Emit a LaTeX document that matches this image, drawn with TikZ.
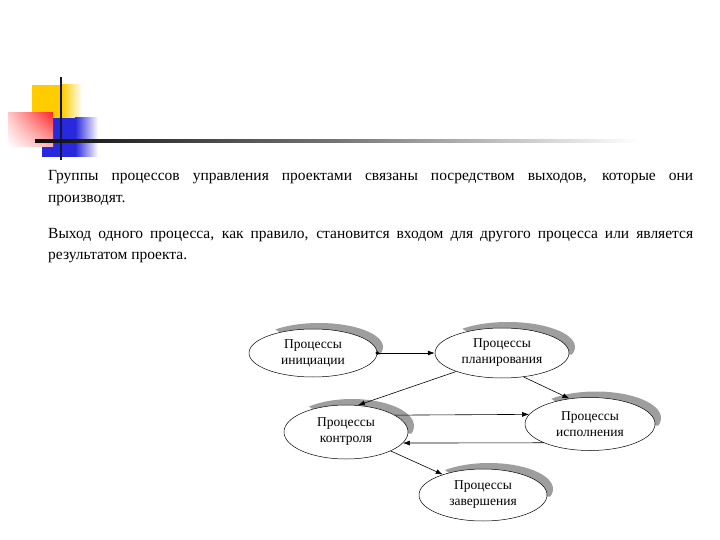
\documentclass[tikz,border=0pt]{standalone}
\usepackage{fontspec}
\setmainfont{Liberation Serif}
\usetikzlibrary{shapes.geometric,arrows.meta,shadings}
\definecolor{decoyel}{RGB}{255,204,0}
\definecolor{decored}{RGB}{255,40,40}
\definecolor{decoblu}{RGB}{40,40,220}
\definecolor{deconavy}{RGB}{20,20,60}
\newcommand\ellshadow[4]{%
  \begin{scope}
    \clip ({#1-1.1*#3},{#2-#4-20}) -- ({#1+#3+20},{#2-#4-20}) -- ({#1+#3+20},{#2+2}) -- (#1,#2) -- cycle;
    \fill[black!38] ({#1+6},{#2-6}) ellipse [x radius=#3, y radius=#4];
  \end{scope}}
\begin{document}
\begin{tikzpicture}[x=1pt,y=-1pt,
  proc/.style={ellipse,draw=black,line width=0.5pt,fill=white,inner sep=0pt,align=center,font=\fontsize{13.5}{16}\selectfont},
  conn/.style={line width=0.6pt,-{Latex[length=7pt,width=5pt]}},
  para/.style={anchor=base west,inner sep=0pt,font=\fontsize{15.5}{18}\selectfont}]
\useasboundingbox (0,0) rectangle (720,540);
% decoration
\shade[left color=decoyel,right color=white] (62,85) rectangle (82,122);
\fill[decoyel] (32,85) rectangle (62,122);
\shade[left color=decoblu,right color=white] (75,118) rectangle (98,157);
\fill[decoblu] (42,118) rectangle (75,157);
\shade[upper left=decored!25,upper right=decored,lower left=white,lower right=decored!35] (8,113) rectangle (53,147);
\draw[line width=2.5pt,deconavy] (61,77) -- (61,160);
\shade[left color=black!95,right color=black!55] (35,139.8) rectangle (330,142.2);
\shade[left color=black!55,right color=white] (330,139.8) rectangle (640,142.2);
% text
\node[para] (t1) at (48,181) {\makebox[645pt][s]{Группы процессов управления проектами связаны посредством выходов, которые они}};
\node[para] (t2) at (48,203) {производят.};
\node[para] (t3) at (48,238) {\makebox[645pt][s]{Выход одного процесса, как правило, становится входом для другого процесса или является}};
\node[para] (t4) at (48,259) {результатом проекта.};
% shadows
\ellshadow{313}{353}{64}{24}
\ellshadow{502}{353}{67}{25}
\ellshadow{346}{432}{62}{27}
\ellshadow{590}{424}{65}{26.5}
\ellshadow{483}{495}{64}{26}
% ellipses
\node[proc,minimum width=128pt,minimum height=48pt] (ini) at (313,353) {Процессы\\инициации};
\node[proc,minimum width=134pt,minimum height=50pt] (pla) at (502,353) {Процессы\\планирования};
\node[proc,minimum width=124pt,minimum height=54pt] (kon) at (346,432) {Процессы\\контроля};
\node[proc,minimum width=130pt,minimum height=53pt] (isp) at (590,424) {Процессы\\исполнения};
\node[proc,minimum width=128pt,minimum height=52pt] (zav) at (483,495) {Процессы\\завершения};
% connectors
\fill (ini.east) circle (1.8pt);
\draw[conn] (ini.east) -- (pla.west);
\draw[conn] (pla.202) -- (kon.66);
\draw[conn] (pla.312) -- (isp.129);
\draw[conn] (kon.19.4) -- (isp.171.6);
\draw[conn] (isp.202.8) -- (kon.349);
\draw[conn] (kon.337) -- (zav.153);
\end{tikzpicture}
\end{document}
